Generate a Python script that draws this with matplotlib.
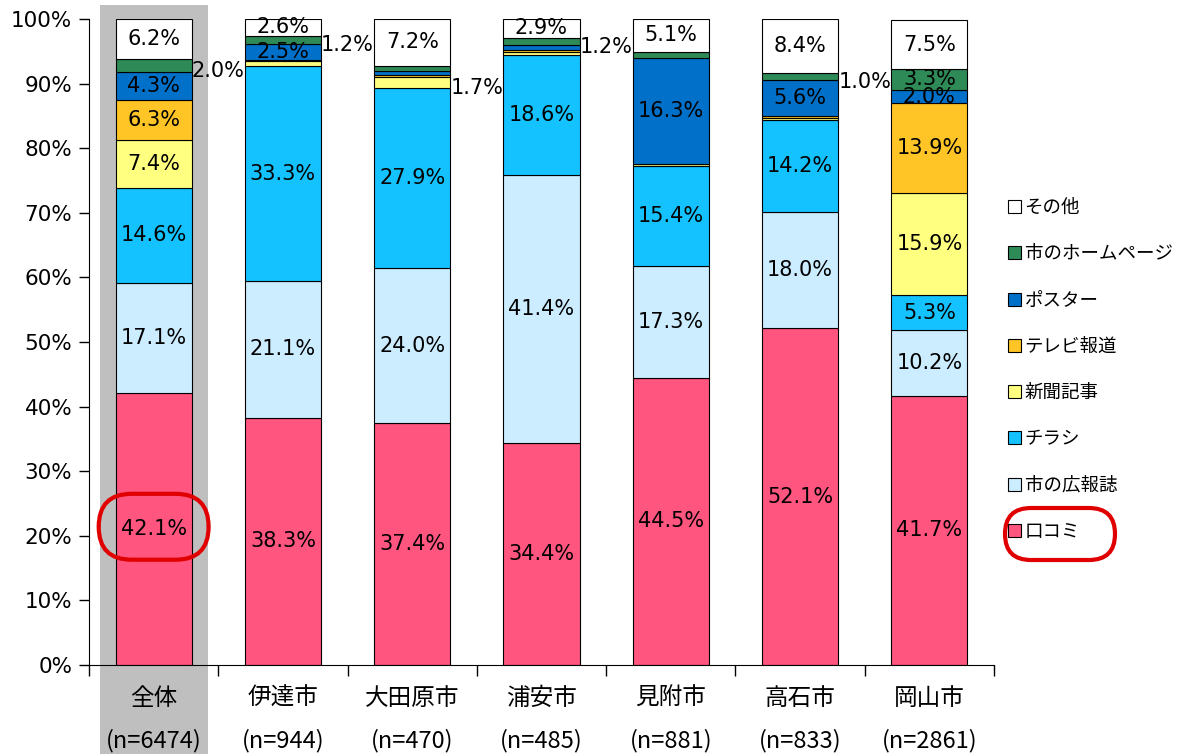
import matplotlib
matplotlib.use("Agg")
import matplotlib.pyplot as plt
import numpy as np
from matplotlib.patches import Patch, Rectangle, FancyBboxPatch

plt.rcParams['font.family'] = ['DejaVu Sans', 'Noto Sans CJK JP']

# ---- data ----
categories = ["全体", "伊達市", "大田原市", "浦安市", "見附市", "高石市", "岡山市"]
counts = [6474, 944, 470, 485, 881, 833, 2861]
series = ["口コミ", "市の広報誌", "チラシ", "新聞記事", "テレビ報道", "ポスター", "市のホームページ", "その他"]

kuchikomi = [42.1, 38.3, 37.4, 34.4, 44.5, 52.1, 41.7]
kohoshi   = [17.1, 21.1, 24.0, 41.4, 17.3, 18.0, 10.2]
chirashi  = [14.6, 33.3, 27.9, 18.6, 15.4, 14.2, 5.3]
shinbun   = [7.4, 0.8, 1.7, 0.5, 0.3, 0.4, 15.9]
terebi    = [6.3, 0.2, 0.3, 0.3, 0.1, 0.3, 13.9]
poster    = [4.3, 2.5, 0.7, 0.7, 16.3, 5.6, 2.0]
homepage  = [2.0, 1.2, 0.8, 1.2, 1.0, 1.0, 3.3]
sonota    = [6.2, 2.6, 7.2, 2.9, 5.1, 8.4, 7.5]

# labels drawn to the right of the bar: (category index, series index)
outside_labels = [(0, 6), (1, 6), (2, 3), (3, 6), (5, 6)]

colors = ["#FF557F", "#CCECFF", "#14C2FF", "#FFFF80", "#FFC425", "#0070C8", "#2E8B57", "#FFFFFF"]

values = np.array([kuchikomi, kohoshi, chirashi, shinbun, terebi, poster, homepage, sonota])

fig = plt.figure(figsize=(11.82, 7.54), dpi=100)
ax = fig.add_axes([89 / 1182, 89 / 754, 905 / 1182, 646 / 754])

x = np.arange(len(categories))
width = 0.59

# gray highlight behind the overall bar
trans = matplotlib.transforms.blended_transform_factory(ax.transData, ax.transAxes)
ax.add_patch(Rectangle((-0.415, -0.14), 0.835, 1.162, transform=trans,
                       facecolor="#BFBFBF", edgecolor="none", clip_on=False, zorder=0))

bottom = np.zeros(len(categories))
for i, name in enumerate(series):
    ax.bar(x, values[i], width, bottom=bottom, color=colors[i], edgecolor="black",
           linewidth=0.8, label=name, zorder=2)
    for j in range(len(categories)):
        v = values[i][j]
        yc = bottom[j] + v / 2
        if (j, i) in outside_labels:
            ax.text(x[j] + width / 2, yc - 0.8, f"{v:.1f}%", ha="left", va="center",
                    fontsize=15, zorder=4)
        elif v >= 2.0:
            ax.text(x[j], yc, f"{v:.1f}%", ha="center", va="center", fontsize=15, zorder=4)
    bottom += values[i]

ax.set_xlim(-0.5, len(categories) - 0.5)
ax.set_ylim(0, 100)
ax.set_yticks(np.arange(0, 101, 10))
ax.set_yticklabels([f"{t}%" for t in range(0, 101, 10)], fontsize=15.5)
ax.tick_params(axis="y", length=7, width=1, pad=5)

ax.set_xticks(np.arange(-0.5, len(categories), 1.0))
ax.set_xticklabels([])
ax.tick_params(axis="x", which="major", length=8, width=1)
ax.set_xticks(x, minor=True)
ax.set_xticklabels([f"{c}\n(n={n})" for c, n in zip(categories, counts)], minor=True,
                   fontsize=17, family=["Noto Sans CJK JP"], linespacing=2.0)
ax.tick_params(axis="x", which="minor", length=0, pad=16)

for s in ["top", "right"]:
    ax.spines[s].set_visible(False)

# red ring around overall 口コミ value
fig.canvas.draw()
px_x = ax.transData.transform((1, 0))[0] - ax.transData.transform((0, 0))[0]
px_y = ax.transData.transform((0, 1))[1] - ax.transData.transform((0, 0))[1]
r = 33 / px_x
ax.add_patch(FancyBboxPatch((-0.425, 16.3), 0.85, 10.2,
                            boxstyle=f"round,pad=0,rounding_size={r}",
                            mutation_aspect=px_x / px_y, facecolor="none",
                            edgecolor="#E00000", linewidth=3, zorder=5, clip_on=False))

# legend, top entry first
handles = [Patch(facecolor=c, edgecolor="black", linewidth=0.8) for c in colors][::-1]
fig.legend(handles, series[::-1], loc="upper left", bbox_to_anchor=(1008 / 1182, 1 - 199 / 754),
           frameon=False, prop={"family": "Noto Sans CJK JP", "size": 13.3},
           handlelength=0.7, handleheight=0.7, handletextpad=0.2, labelspacing=1.53,
           borderpad=0, borderaxespad=0)

fr = 26 / 1182
fig.patches.append(FancyBboxPatch((1005 / 1182, 1 - 560 / 754), 110 / 1182, 52 / 754,
                                  boxstyle=f"round,pad=0,rounding_size={fr}",
                                  mutation_aspect=1182 / 754, facecolor="none",
                                  edgecolor="#E00000", linewidth=3,
                                  transform=fig.transFigure, figure=fig))

fig.savefig("out.png", dpi=100)
